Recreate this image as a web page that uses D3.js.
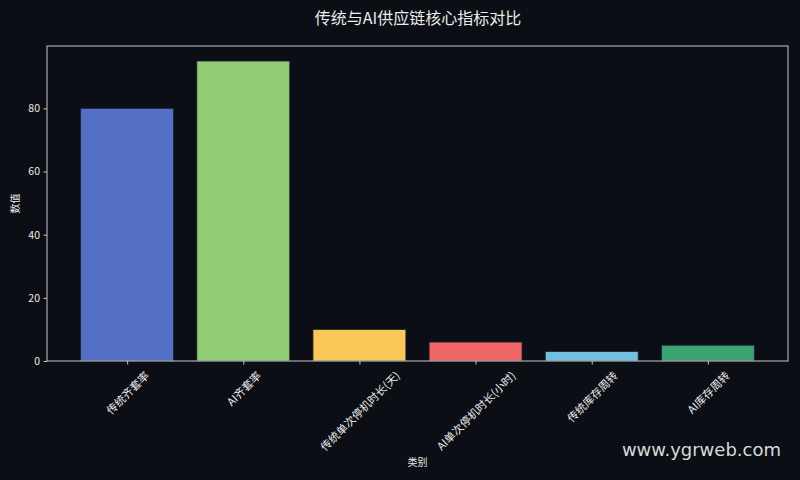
<!DOCTYPE html>
<html>
<head>
<meta charset="utf-8">
<script src="https://cdn.jsdelivr.net/npm/d3@7"></script>
<style>
  body { margin: 0; background: #0b0e14; }
  svg { display: block; }
</style>
</head>
<body>
<div id="chart"></div>
<script>
// chart data
const categories = ["传统齐套率", "AI齐套率", "传统单次停机时长(天)", "AI单次停机时长(小时)", "传统库存周转", "AI库存周转"];
const values = [80, 95, 10, 6, 3, 5];
const barColors = ["#5470c6", "#91cc75", "#fac858", "#ee6666", "#73c0de", "#3ba272"];
const yTicks = [0, 20, 40, 60, 80];

const width = 800, height = 480;
const margin = {top: 46, right: 12, bottom: 119, left: 47};
const font = "'Noto Sans CJK SC', 'DejaVu Sans', sans-serif";
const textColor = "#ececec";

let svg = d3.select("#chart")
    .append("svg")
    .attr("width", width)
    .attr("height", height);

svg.append("rect")
    .attr("width", width)
    .attr("height", height)
    .attr("fill", "#0b0e14");

// matplotlib-like limits: bar width 0.8, 5% margins
const n = categories.length;
const xMin = -0.4 - 0.05 * (n - 1 + 0.8), xMax = n - 1 + 0.4 + 0.05 * (n - 1 + 0.8);
const x = d3.scaleLinear()
    .domain([xMin, xMax])
    .range([margin.left, width - margin.right]);
const y = d3.scaleLinear()
    .domain([0, d3.max(values) * 1.05])
    .range([height - margin.bottom, margin.top]);

// bars
svg.append("g")
    .selectAll("rect")
    .data(values)
    .enter()
    .append("rect")
    .attr("x", (d, i) => x(i - 0.4))
    .attr("width", (d, i) => x(i + 0.4) - x(i - 0.4))
    .attr("y", d => y(d))
    .attr("height", d => y(0) - y(d))
    .attr("fill", (d, i) => barColors[i])
    .attr("stroke", "#1c2330")
    .attr("stroke-width", 0.8);

// frame
svg.append("rect")
    .attr("x", margin.left)
    .attr("y", margin.top)
    .attr("width", width - margin.right - margin.left)
    .attr("height", height - margin.bottom - margin.top)
    .attr("fill", "none")
    .attr("stroke", "#c8c8c8")
    .attr("stroke-width", 1);

// y axis
let yAxis = svg.append("g")
    .attr("transform", "translate(" + margin.left + ",0)")
    .call(d3.axisLeft(y).tickValues(yTicks).tickSize(3.5).tickPadding(3.5));
yAxis.select(".domain").remove();
yAxis.selectAll("line").attr("stroke", "#c8c8c8");
yAxis.selectAll("text")
    .attr("fill", textColor)
    .style("font-family", font)
    .style("font-size", "10.5px");

// x axis
let xAxis = svg.append("g")
    .attr("transform", "translate(0," + (height - margin.bottom) + ")")
    .call(d3.axisBottom(x).tickValues(d3.range(n)).tickSize(3.5).tickFormat(""));
xAxis.select(".domain").remove();
xAxis.selectAll("line").attr("stroke", "#c8c8c8");

// rotated tick labels, bounding box centred under the tick
const labelTop = height - margin.bottom + 8;
const fs = 11;
categories.forEach(function (c, i) {
    let t = svg.append("text")
        .text(c)
        .attr("fill", textColor)
        .style("font-family", font)
        .style("font-size", fs + "px")
        .attr("text-anchor", "middle")
        .attr("dominant-baseline", "central");
    let L = t.node().getComputedTextLength();
    let half = (L + fs) * Math.SQRT1_2 / 2;
    t.attr("transform", "translate(" + x(i) + "," + (labelTop + half) + ") rotate(-45)");
});

// axis titles
svg.append("text")
    .attr("x", (margin.left + width - margin.right) / 2)
    .attr("y", 466)
    .attr("text-anchor", "middle")
    .attr("fill", textColor)
    .style("font-family", font)
    .style("font-size", "10px")
    .text("类别");

svg.append("text")
    .attr("transform", "translate(19," + ((margin.top + height - margin.bottom) / 2) + ") rotate(-90)")
    .attr("text-anchor", "middle")
    .attr("fill", textColor)
    .style("font-family", font)
    .style("font-size", "10px")
    .text("数值");

// title
svg.append("text")
    .attr("x", width / 2 + 18)
    .attr("y", 24)
    .attr("text-anchor", "middle")
    .attr("fill", textColor)
    .style("font-family", font)
    .style("font-size", "16px")
    .text("传统与AI供应链核心指标对比");

// watermark
svg.append("text")
    .attr("x", 781)
    .attr("y", 456)
    .attr("text-anchor", "end")
    .attr("fill", "#d9d9d9")
    .style("font-family", "'DejaVu Sans', sans-serif")
    .style("font-size", "18px")
    .text("www.ygrweb.com");
</script>
</body>
</html>
